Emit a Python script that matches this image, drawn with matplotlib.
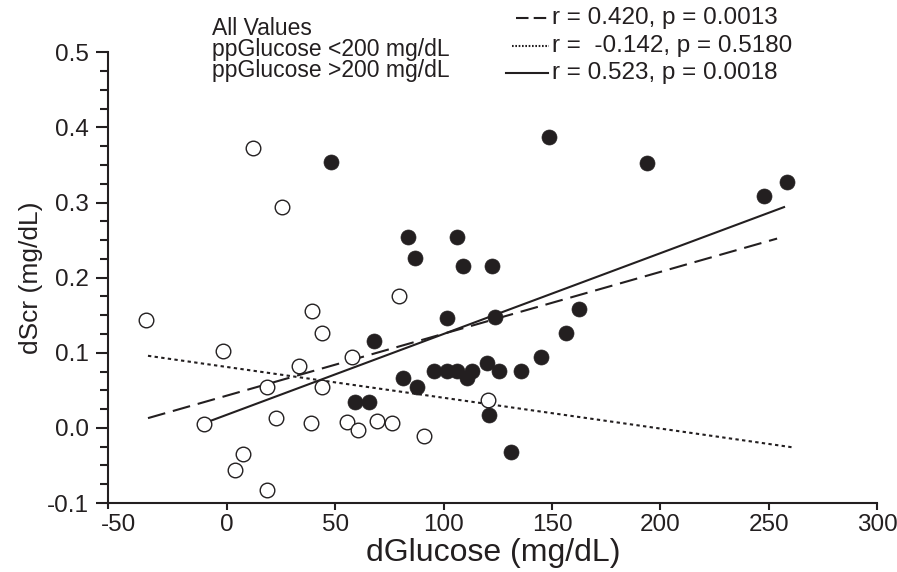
import numpy as np
import matplotlib
matplotlib.use("Agg")
import matplotlib.pyplot as plt
from matplotlib.lines import Line2D
from matplotlib.ticker import MultipleLocator, FormatStrFormatter

plt.rcParams['font.family'] = ['Liberation Sans', 'DejaVu Sans']
plt.rcParams['axes.unicode_minus'] = False

# ppGlucose < 200 mg/dL (open circles)
low_x = [-37.0, -10.6, -1.7, 3.7, 7.5, 12.1, 18.8, 18.8, 22.5, 25.7, 33.2, 38.7,
         39.1, 44.1, 44.1, 55.4, 57.9, 60.7, 69.1, 76.2, 79.3, 91.0, 120.4]
low_y = [0.143, 0.005, 0.103, -0.056, -0.035, 0.372, -0.083, 0.054, 0.013, 0.294, 0.083, 0.006,
         0.156, 0.126, 0.054, 0.008, 0.094, -0.003, 0.009, 0.007, 0.176, -0.011, 0.037]

# ppGlucose > 200 mg/dL (filled circles)
high_x = [48.3, 148.5, 193.6, 247.7, 258.4, 83.6, 106.4, 86.9, 109.0, 122.4,
          101.8, 123.9, 162.4, 156.4, 144.8, 68.1, 81.3, 87.8, 95.5, 101.8,
          106.2, 113.1, 110.6, 120.1, 125.5, 135.5, 59.2, 65.6, 120.8, 130.9]
high_y = [0.354, 0.387, 0.352, 0.309, 0.328, 0.254, 0.254, 0.226, 0.216, 0.216,
          0.146, 0.147, 0.158, 0.126, 0.095, 0.115, 0.066, 0.055, 0.076, 0.076,
          0.076, 0.076, 0.067, 0.086, 0.076, 0.076, 0.035, 0.035, 0.017, -0.032]

# regression lines
group_labels = ['All Values', 'ppGlucose <200 mg/dL', 'ppGlucose >200 mg/dL']
fit_labels = ['r = 0.420, p = 0.0013', 'r =  -0.142, p = 0.5180', 'r = 0.523, p = 0.0018']
fit_xrange = [[-36.3, 253.8], [-36.3, 261.0], [-10.6, 257.0]]
fit_intercept = [0.0429, 0.0811, 0.0174]
fit_slope = [0.000824, -0.00041, 0.001076]

xticks = [-50, 0, 50, 100, 150, 200, 250, 300]
yticks = [-0.1, 0.0, 0.1, 0.2, 0.3, 0.4, 0.5]

ink = '#231f20'
W, H = 897, 572
fit_styles = [(0, (8.6, 3.8)), (0, (1.6, 1.6)), '-']
sample_styles = [(0, (6, 2.5)), (0, (0.8, 0.8)), '-']


def fx(px):
    return px / W


def fy(py):
    return 1 - py / H


fig = plt.figure(figsize=(W / 100, H / 100), dpi=100)
ax = fig.add_axes([fx(108.3), fy(503), (877.3 - 108.3) / W, (503 - 52.3) / H])

for xr, a, b, ls in zip(fit_xrange, fit_intercept, fit_slope, fit_styles):
    xs = np.array(xr)
    ax.plot(xs, a + b * xs, color=ink, lw=1.5, ls=ls, zorder=2)

ax.plot(low_x, low_y, 'o', ms=10.5, mfc='white', mec=ink, mew=1.0, zorder=3, clip_on=False)
ax.plot(high_x, high_y, 'o', ms=10.8, mfc=ink, mec=ink, mew=0.5, zorder=4, clip_on=False)

x_left = -54.6
ax.set_xlim(x_left, 300)
ax.set_ylim(-0.1, 0.5)
ax.set_xticks(xticks)
ax.set_xticks([x_left], minor=True)
ax.set_yticks(yticks)
ax.yaxis.set_minor_locator(MultipleLocator(0.025))
ax.yaxis.set_major_formatter(FormatStrFormatter('%.1f'))
# the -50 label sits just right of the axis corner with no tick of its own
ax.xaxis.get_major_ticks()[0].tick1line.set_visible(False)

for side in ['top', 'right']:
    ax.spines[side].set_visible(False)
for side in ['left', 'bottom']:
    ax.spines[side].set_linewidth(1.5)
    ax.spines[side].set_color(ink)

ax.tick_params(axis='y', which='major', direction='out', length=9, width=1.5,
               colors=ink, labelsize=17.5, pad=5)
ax.tick_params(axis='y', which='minor', direction='out', length=6, width=1.5, colors=ink)
ax.tick_params(axis='x', which='major', direction='out', length=5, width=1.5,
               colors=ink, labelsize=17.5, pad=3)
ax.tick_params(axis='x', which='minor', direction='out', length=4, width=1.5, colors=ink)

ax.set_xlabel('dGlucose (mg/dL)', fontsize=23, color=ink, labelpad=1)
ax.set_ylabel('dScr (mg/dL)', fontsize=19, color=ink, labelpad=3)

# legend block drawn as figure text
left_base = [35, 56, 77]
for lab, yb in zip(group_labels, left_base):
    fig.text(fx(212), fy(yb), lab, fontsize=16.5, color=ink, ha='left', va='baseline')

right_base = [24, 52, 79]
sample_x = [[516, 548], [512, 549], [506, 548]]
for lab, yb, sx, ls in zip(fit_labels, right_base, sample_x, sample_styles):
    fig.text(fx(552), fy(yb), lab, fontsize=17.5, color=ink, ha='left', va='baseline')
    fig.add_artist(Line2D([fx(sx[0]), fx(sx[1])], [fy(yb - 6), fy(yb - 6)],
                          transform=fig.transFigure, color=ink, lw=1.5, ls=ls))

fig.savefig('out.png', dpi=100)
